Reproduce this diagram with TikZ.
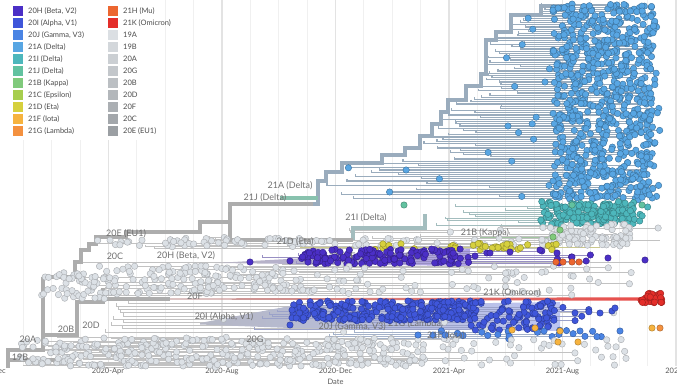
\documentclass[tikz,border=0pt]{standalone}
\usepackage{fontspec}
\setmainfont{Lato}
\usetikzlibrary{positioning}

% clade colours (legend order)
\definecolor{c20H}{HTML}{4B2FC6}
\definecolor{c20I}{HTML}{3F56DA}
\definecolor{c20J}{HTML}{4A84E4}
\definecolor{c21A}{HTML}{58A6E3}
\definecolor{c21I}{HTML}{4DB7BC}
\definecolor{c21J}{HTML}{62C2A0}
\definecolor{c21B}{HTML}{80CA7C}
\definecolor{c21C}{HTML}{A7CE4E}
\definecolor{c21D}{HTML}{D6D03E}
\definecolor{c21F}{HTML}{F6B33F}
\definecolor{c21G}{HTML}{F4913F}
\definecolor{c21H}{HTML}{EC6630}
\definecolor{c21K}{HTML}{E42E2A}
\definecolor{c19A}{HTML}{DBDFE3}
\definecolor{c19B}{HTML}{D3D7DB}
\definecolor{c20A}{HTML}{CBCFD3}
\definecolor{c20G}{HTML}{C3C7CB}
\definecolor{c20B}{HTML}{BBBFC3}
\definecolor{c20D}{HTML}{B3B7BB}
\definecolor{c20F}{HTML}{ABAFB3}
\definecolor{c20C}{HTML}{A3A7AB}
\definecolor{c20E}{HTML}{9B9FA3}
% tree colours
\definecolor{twiggray}{HTML}{C2C2C2}
\definecolor{trunkgray}{HTML}{ADADAD}
\definecolor{deltagray}{HTML}{9AACBD}
\definecolor{tealgray}{HTML}{A3BDBE}
\definecolor{tipgray}{HTML}{DCE1E6}
\definecolor{labelgray}{HTML}{707070}

\pgfdeclarelayer{tips}
\pgfdeclarelayer{labels}
\pgfsetlayers{main,tips,labels}

\tikzset{
  twig/.style = {draw = #1, line width = 1},
  twig/.default = twiggray,
  trunk/.style = {draw = #1, line width = 3.5},
  trunk/.default = trunkgray,
  tipdot/.style = {fill = #1, draw = #1!70!black, line width = 0.45},
  graydot/.style = {fill = tipgray, draw = tipgray!78!black, line width = 0.45},
  cladelabel/.style = {font = \fontsize{9}{10}\selectfont, text = labelgray, inner sep = 0pt},
  legendtext/.style = {font = \fontsize{7.5}{9}\selectfont, text = black!70, inner sep = 0pt},
  swatch/.style = {minimum size = 9.5pt, inner sep = 0pt, fill = #1},
  axislabel/.style = {font = \fontsize{7.5}{9}\selectfont, text = black!65, inner sep = 0pt},
  gridminor/.style = {draw = black!6, line width = 0.8},
  gridmajor/.style = {draw = black!11, line width = 1.2}
}

% random cloud of tips: count, x, width, y, height, style
\newcommand{\tipcloud}[6]{%
  \begin{pgfonlayer}{tips}
  \foreach \n in {1,...,#1}{%
    \pgfmathsetmacro\tipx{#2+#3*rnd}%
    \pgfmathsetmacro\tipy{#4+#5*rnd}%
    \path[#6] (\tipx,\tipy) circle[radius=3.2];
  }
  \end{pgfonlayer}}

% bundle of branches: count, y0, dy, left, left spread, right, right spread, line style, tip style
\newcommand{\twigs}[9]{%
  \foreach \n in {1,...,#1}{%
    \pgfmathsetmacro\twy{#2+#3*\n}%
    \pgfmathsetmacro\twl{#4+#5*rnd}%
    \pgfmathsetmacro\twr{max(\twl+15,#6+#7*rnd)}%
    \draw[#8] (\twl,\twy-#3) -- (\twl,\twy) -- (\twr,\twy);
    \begin{pgfonlayer}{tips}
      \path[#9] (\twr,\twy) circle[radius=3.2];
    \end{pgfonlayer}
  }}

\begin{document}
\begin{tikzpicture}[x=1pt, y=-1pt]
  \useasboundingbox (0,0) rectangle (677,391);
  \clip (0,0) rectangle (677,391);
  \pgfmathsetseed{4217}

  % time grid
  \foreach \k in {0,...,24}{
    \pgfmathsetmacro\gx{-5+28.375*\k}
    \pgfmathtruncatemacro\gm{mod(\k,4)}
    \ifnum\gm=0 \draw[gridmajor] (\gx,0) -- (\gx,366);
    \else \draw[gridminor] (\gx,0) -- (\gx,366); \fi
  }

  % gray bundles
  \twigs{12}{224}{2}{235}{300}{420}{240}{twig}{graydot}
  \twigs{8}{236}{1.5}{95}{140}{200}{300}{twig}{graydot}
  \twigs{20}{263}{1.6}{82}{220}{160}{480}{twig}{graydot}
  \twigs{10}{300}{3.2}{104}{30}{150}{470}{twig}{graydot}
  \twigs{24}{336}{1.3}{10}{120}{120}{500}{twig}{graydot}
  \draw[twig] (89,243) -- (240,243);
  \draw[twig] (353,240) -- (660,240);
  \draw[twig] (75,262) -- (640,262);

  % 21A (Delta)
  \foreach \n in {0,...,88}{
    \pgfmathsetmacro\twy{5+2.2*\n}
    \pgfmathsetmacro\deltaedge{(\twy<15)?541:(
      (\twy<32)?511:((\twy<40)?496:((\twy<74)?486:((\twy<86)?481:(
      (\twy<100)?466:((\twy<112)?448:((\twy<124)?441:((\twy<136)?432:(
      (\twy<148)?420:((\twy<155)?405:((\twy<163)?382:((\twy<172)?342:(
      (\twy<181)?326:318)))))))))))))}
    \pgfmathsetmacro\twl{\deltaedge+(548-\deltaedge)*rnd*rnd}
    \pgfmathsetmacro\twr{565+95*rnd}
    \draw[twig=deltagray, line width=1.35] (\twl,\twy-2.2) -- (\twl,\twy) -- (\twr,\twy);
    \pgfmathtruncatemacro\tipk{rnd<0.3}
    \pgfmathsetmacro\tipx{\twl+(550-\twl)*rnd}
    \begin{pgfonlayer}{tips}
      \path[tipdot=c21A] (\twr,\twy) circle[radius=3.2];
      \ifnum\tipk=1 \path[tipdot=c21A] (\tipx,\twy) circle[radius=3.2]; \fi
    \end{pgfonlayer}
  }
  \draw[trunk=deltagray] (313,204) -| (318,181) -| (326,172) -| (342,163) -| (382,155)
    -| (405,148) -| (420,136) -| (432,124) -| (441,112) -| (448,100) -| (466,86)
    -| (481,74) -| (486,40) -| (496,32) -| (511,15) -| (541,6) -- (560,6);

  % 21I (Delta), 21J (Delta), 21B (Kappa)
  \twigs{10}{204}{2.1}{425}{110}{575}{70}{twig=tealgray}{tipdot=c21I}
  \draw[trunk=tealgray] (353,240) -- (353,228) -| (425,214);
  \draw[trunk=c21J!60!twiggray] (280,198) -- (318,198);
  \draw[twig=c21B!50!twiggray] (480,237) -- (560,237);

  % 21D (Eta), 20H (Beta, V2)
  \draw[twig=c21D!40!twiggray] (300,247) -- (600,247);
  \shade[left color=c20H!8!twiggray, right color=c20H!45!white]
    (215,263) -- (470,249) -- (470,266) -- cycle;
  \twigs{7}{249}{2}{230}{200}{480}{170}{twig=c20H!35!twiggray}{tipdot=c20H}

  % 20F and 21K (Omicron)
  \shade[left color=c21K!20!twiggray, right color=c21K!85!white]
    (170,298.4) -- (640,297.3) -- (640,300.7) -- (170,299.6) -- cycle;

  % 20I (Alpha, V1), 20J (Gamma, V3)
  \shade[left color=c20I!10!twiggray, right color=c20I!35!white]
    (200,323) -- (290,306) -- (560,302) -- (560,331) -- (290,328) -- (200,324.5) -- cycle;
  \twigs{12}{303}{2.2}{240}{120}{470}{140}{twig=c20I!30!twiggray}{tipdot=c20I}
  \twigs{4}{330}{2.2}{300}{100}{480}{180}{twig=c20J!25!twiggray}{tipdot=c20J}

  % backbone
  \draw[trunk] (8,368) -- (8,350) -| (43,277);
  \draw[trunk] (43,277) -| (75,262) -| (81,250) -| (89,244) -| (96,237) -| (126,232)
    -| (200,222) -| (230,204) -- (313,204);
  \draw[trunk] (230,222) -- (230,240) -- (353,240);
  \draw[trunk] (43,335) -| (77,302) -| (103,288);
  \draw[trunk] (103,299) -- (170,299);
  \draw[trunk] (8,360) -- (60,360);

  % labels hidden under tips
  \node[cladelabel] (name21C) at (355,257) {21C (Epsilon)};
  \node[cladelabel] (name21H) at (405,257) {21H (Mu)};
  \node[cladelabel, anchor=west] (name21G) at (388,324) {21G (Lambda)};

  % tip clouds
  \tipcloud{720}{553}{102}{4}{196}{tipdot=c21A}
  \tipcloud{150}{540}{95}{201}{24}{tipdot=c21I}
  \tipcloud{20}{590}{70}{203}{20}{tipdot=c21I}
  \tipcloud{90}{540}{90}{224}{22}{graydot}
  \tipcloud{60}{170}{380}{238}{9}{graydot}
  \tipcloud{18}{92}{140}{240}{6}{graydot}
  \tipcloud{35}{375}{185}{243}{7}{tipdot=c21D}
  \tipcloud{140}{300}{170}{249}{15}{tipdot=c20H}
  \tipcloud{160}{80}{230}{266}{28}{graydot}
  \tipcloud{50}{310}{300}{266}{28}{graydot}
  \tipcloud{50}{40}{70}{272}{28}{graydot}
  \tipcloud{28}{641}{22}{293}{10}{tipdot=c21K}
  \tipcloud{130}{292}{110}{301}{20}{tipdot=c20I}
  \tipcloud{130}{400}{75}{301}{19}{tipdot=c20I}
  \tipcloud{80}{470}{85}{301}{29}{tipdot=c20I}
  \tipcloud{16}{440}{160}{330}{8}{tipdot=c20J}
  \tipcloud{320}{20}{400}{338}{28}{graydot}
  \tipcloud{40}{420}{220}{338}{28}{graydot}
  \begin{pgfonlayer}{tips}
    \foreach \p in {(404,205),(572,205),(642,205)}
      \path[tipdot=c21J] \p circle[radius=3.2];
    \foreach \p in {(553,237),(560,230)}
      \path[tipdot=c21B] \p circle[radius=3.2];
    \foreach \p in {(250,262),(290,261),(475,256),(490,253),(510,252),(540,250),
                    (557,253),(572,257),(608,258),(645,260)}
      \path[tipdot=c20H] \p circle[radius=3.2];
    \foreach \p in {(556,262),(563,262),(572,262),(579,262)}
      \path[tipdot=c21H] \p circle[radius=3.2];
    \foreach \p in {(290,325),(575,313),(600,313),(612,311),(615,308)}
      \path[tipdot=c20I] \p circle[radius=3.2];
    \foreach \p in {(418,335),(433,335),(445,335),(580,331),(620,331)}
      \path[tipdot=c20J] \p circle[radius=3.2];
    \foreach \p in {(512,330),(535,328),(560,331),(558,342),(578,342),(652,328)}
      \path[tipdot=c21F] \p circle[radius=3.2];
    \path[tipdot=c21G] (660,328) circle[radius=3.2];
  \end{pgfonlayer}

  % clade labels
  \begin{pgfonlayer}{labels}
    \node[cladelabel] (name19B) at (20,357) {19B};
    \node[cladelabel] (name20A) at (28,339) {20A};
    \node[cladelabel] (name20B) at (66,329) {20B};
    \node[cladelabel] (name20D) at (91,325) {20D};
    \node[cladelabel] (name20C) at (115,256) {20C};
    \node[cladelabel] (name20E) at (126,234) {20E (EU1)};
    \node[cladelabel] (name20H) at (186,256) {20H (Beta, V2)};
    \node[cladelabel] (name20F) at (195,296) {20F};
    \node[cladelabel] (name20I) at (224,317) {20I (Alpha, V1)};
    \node[cladelabel] (name20G) at (255,339) {20G};
    \node[cladelabel] (name21A) at (290,186) {21A (Delta)};
    \node[cladelabel] (name21J) at (265,198) {21J (Delta)};
    \node[cladelabel] (name21D) at (295,242) {21D (Eta)};
    \node[cladelabel] (name21I) at (366,218) {21I (Delta)};
    \node[cladelabel] (name21B) at (485,233) {21B (Kappa)};
    \node[cladelabel] (name21K) at (512,293) {21K (Omicron)};
    \node[cladelabel, anchor=east] (name20J) at (386,327) {20J (Gamma, V3)};
    \node[cladelabel] (name21F) at (446,336) {21F (Iota)};
  \end{pgfonlayer}

  % legend
  \fill[white] (0,0) rectangle (165,140);
  \foreach \clade/\name [count=\k] in {c20H/{20H (Beta, V2)}, c20I/{20I (Alpha, V1)},
      c20J/{20J (Gamma, V3)}, c21A/{21A (Delta)}, c21I/{21I (Delta)}, c21J/{21J (Delta)},
      c21B/{21B (Kappa)}, c21C/{21C (Epsilon)}, c21D/{21D (Eta)}, c21F/{21F (Iota)},
      c21G/{21G (Lambda)}}{
    \node[swatch=\clade] (keyA\k) at (18,-1+12*\k) {};
    \node[legendtext, right=5pt of keyA\k] (nameA\k) {\name};
  }
  \foreach \clade/\name [count=\k] in {c21H/{21H (Mu)}, c21K/{21K (Omicron)}, c19A/19A,
      c19B/19B, c20A/20A, c20G/20G, c20B/20B, c20D/20D, c20F/20F, c20C/20C,
      c20E/{20E (EU1)}}{
    \node[swatch=\clade] (keyB\k) at (113,-1+12*\k) {};
    \node[legendtext, right=5pt of keyB\k] (nameB\k) {\name};
  }

  % time axis
  \foreach \lab/\tx [count=\k from 0] in {2019-Dec/-11, 2020-Apr/108, 2020-Aug/222,
      2020-Dec/335.5, 2021-Apr/449, 2021-Aug/562.5, 2021-Dec/682}
    \node[axislabel] (tick\k) at (\tx,371) {\lab};
  \node[axislabel, below=5pt of tick3] (datetitle) {Date};
\end{tikzpicture}
\end{document}
